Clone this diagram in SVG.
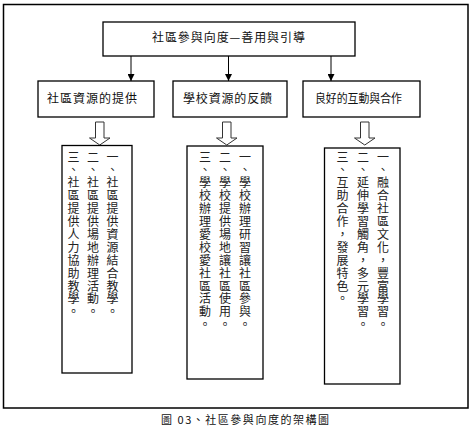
<svg xmlns="http://www.w3.org/2000/svg" width="473" height="431" viewBox="0 0 473 431">
<defs>
<style>
.box{fill:#fff;stroke:#000;stroke-width:1.3}
.t{font-family:"Noto Sans CJK TC","Noto Sans CJK SC",sans-serif;fill:#111;font-size:12px}
.v{font-family:"Noto Sans CJK TC","Noto Sans CJK SC",sans-serif;fill:#222;font-size:12px;writing-mode:vertical-rl;letter-spacing:0.9px}
.ln{stroke:#000;stroke-width:1;fill:none}
.hol{fill:#fff;stroke:#333;stroke-width:1}
</style>
<marker id="ah" viewBox="0 0 8 8" refX="8" refY="4" markerWidth="7" markerHeight="7" markerUnits="userSpaceOnUse" orient="auto">
<path d="M0,0 L8,4 L0,8 Z" fill="#000"/>
</marker>
</defs>
<rect x="0" y="0" width="473" height="431" fill="#fff"/>
<rect x="3.5" y="4.5" width="464.5" height="403.5" fill="none" stroke="#000" stroke-width="1.5"/>

<g id="top">
<rect class="box" x="103" y="22" width="252" height="34"/>
<text class="t" x="152" y="42" textLength="153" lengthAdjust="spacing">社區參與向度—善用與引導</text>
</g>

<g id="connectors">
<line class="ln" x1="131" y1="56" x2="131" y2="81" marker-end="url(#ah)"/>
<line class="ln" x1="228.5" y1="56" x2="228.5" y2="81" marker-end="url(#ah)"/>
<line class="ln" x1="331" y1="56" x2="331" y2="81" marker-end="url(#ah)"/>
<path class="hol" d="M95.5,122 H104 V138 H110 L99.75,145 L89.5,138 H95.5 Z"/>
<path class="hol" d="M222.5,122 H231 V138 H237 L226.75,145 L216.5,138 H222.5 Z"/>
<path class="hol" d="M360.5,122 H369 V138 H375 L364.75,145 L354.5,138 H360.5 Z"/>
</g>

<g id="n1">
<rect class="box" x="38" y="81" width="116" height="36"/>
<text class="t" x="47" y="103" textLength="90" lengthAdjust="spacing">社區資源的提供</text>
</g>
<g id="n2">
<rect class="box" x="173" y="81" width="114" height="36"/>
<text class="t" x="183" y="103" textLength="89" lengthAdjust="spacing">學校資源的反饋</text>
</g>
<g id="n3">
<rect class="box" x="303" y="81" width="117" height="36"/>
<text class="t" x="315" y="103" textLength="87" lengthAdjust="spacingAndGlyphs">良好的互動與合作</text>
</g>

<g id="d1">
<rect class="box" x="62" y="145.5" width="70" height="227.5"/>
<text class="v" x="112.5" y="151">一、社區提供資源結合教學。</text>
<text class="v" x="93" y="151">二、社區提供場地辦理活動。</text>
<text class="v" x="73.5" y="151">三、社區提供人力協助教學。</text>
</g>
<g id="d2">
<rect class="box" x="187" y="146" width="76" height="233"/>
<text class="v" x="245" y="151">一、學校辦理研習讓社區參與。</text>
<text class="v" x="225" y="151">二、學校提供場地讓社區使用。</text>
<text class="v" x="205" y="151">三、學校辦理愛校愛社區活動。</text>
</g>
<g id="d3">
<rect class="box" x="324.5" y="148" width="75.5" height="236"/>
<text class="v" x="383" y="151">一、融合社區文化，豐富學習。</text>
<text class="v" x="363" y="151">二、延伸學習觸角，多元學習。</text>
<text class="v" x="342.5" y="151">三、互助合作，發展特色。</text>
</g>

<text class="t" x="161" y="424" font-size="11" style="font-size:11px" textLength="168" lengthAdjust="spacing">圖 03、社區參與向度的架構圖</text>
</svg>
